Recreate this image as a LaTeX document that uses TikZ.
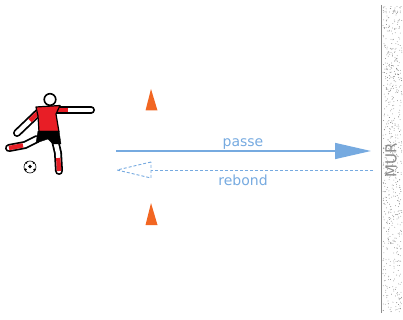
\documentclass[tikz,border=0pt]{standalone}
\usepackage{fontspec}
\setmainfont{DejaVu Sans}
\usetikzlibrary{arrows.meta}

\definecolor{passebleu}{RGB}{118,170,224}
\definecolor{plot}{RGB}{242,102,34}
\definecolor{maillot}{RGB}{232,30,38}
\definecolor{murgris}{RGB}{140,140,140}

\tikzset{
  lbl/.style={text=passebleu,font=\fontsize{14}{16}\selectfont,inner sep=0pt},
  membre/.style={line width=8,line cap=round,line join=round,black},
  peau/.style={line width=4.4,line cap=round,line join=round,white},
  rouge/.style={line width=4.4,line cap=butt,maillot},
  cone/.style={fill=plot,draw=none}
}

\begin{document}
\begin{tikzpicture}[x=1pt,y=-1pt]
        \useasboundingbox (0,0) rectangle (403,320);

        % mur
        \pgfmathsetseed{11}
        \foreach \i in {1,...,650}{
            \pgfmathsetmacro{\px}{383+19*rnd}
            \pgfmathsetmacro{\py}{6+306*rnd}
            \fill[black!55] (\px,\py) circle (0.4);
        }
        \draw[murgris,line width=0.9] (381,5) -- (381,313);
        \node[rotate=90,text=murgris,font=\fontsize{15}{16}\selectfont,inner sep=0pt] (mur) at (391,160) {MUR};

        % plots
        \fill[cone] (151,89) -- (157.5,110.5) -- (145.5,110.5) -- cycle;
        \fill[cone] (151,203) -- (157.5,225) -- (145.5,225) -- cycle;

        % joueur
        \draw[membre] (50,110) -- (91,110);
        \draw[peau] (50,110) -- (91,110);
        \draw[rouge] (50,110) -- (68,110);
        \draw[membre] (39,112) -- (17,133);
        \draw[peau] (39,112) -- (17,133);
        \draw[rouge] (39,112) -- (30,120.6);
        \draw[membre] (37,139) -- (25,145) -- (9,148);
        \draw[peau] (37,139) -- (25,145) -- (9,148);
        \draw[rouge] (23,145.4) -- (9,148);
        \draw[membre] (55,140) -- (58,153) -- (59,171);
        \draw[peau] (55,140) -- (58,153) -- (59,171);
        \draw[rouge] (58.3,158) -- (59,171);
        \filldraw[fill=maillot,draw=black,line width=1.2,line join=round]
            (36,107) -- (60,105.5) -- (56,114) -- (59,132) -- (39,132) -- (38,116) -- cycle;
        \filldraw[fill=black,draw=black,line join=round]
            (38,131) -- (59,131) -- (61,144) -- (53,144) -- (48,139) -- (36,143) -- cycle;
        \filldraw[fill=white,draw=black,line width=1.6] (50,99.5) circle (5.8);

        % ballon
        \filldraw[fill=white,draw=black,line width=0.6] (30,167) circle (6);
        \fill[black] (30,166.5) circle (1.9);
        \fill[black] (25.6,169.6) circle (1.3);
        \fill[black] (34.4,169.8) circle (1.3);
        \fill[black] (26.4,162.8) circle (1.1);
        \fill[black] (33.6,162.9) circle (1.1);

        % passe et rebond
        \coordinate (p1) at (116,151);
        \coordinate (p2) at (371,151);
        \coordinate (r1) at (373,170);
        \coordinate (r2) at (151,170);
        \coordinate (r3) at (117,170);

        \path [draw=passebleu,line width=1.5,-{Triangle[length=36,width=16]}] (p1) to (p2);
        \path [draw=passebleu,line width=0.9,dash pattern=on 3 off 2] (r1) to (r2);
        \path [draw=passebleu,line width=0.9,dash pattern=on 3 off 2]
            ([yshift=8pt]r2) -- (r3) -- ([yshift=-8pt]r2) -- cycle;

        \node[lbl] (passe) at (243,144) {passe};
        \node[lbl] (rebond) at (243,180) {rebond};
\end{tikzpicture}
\end{document}
